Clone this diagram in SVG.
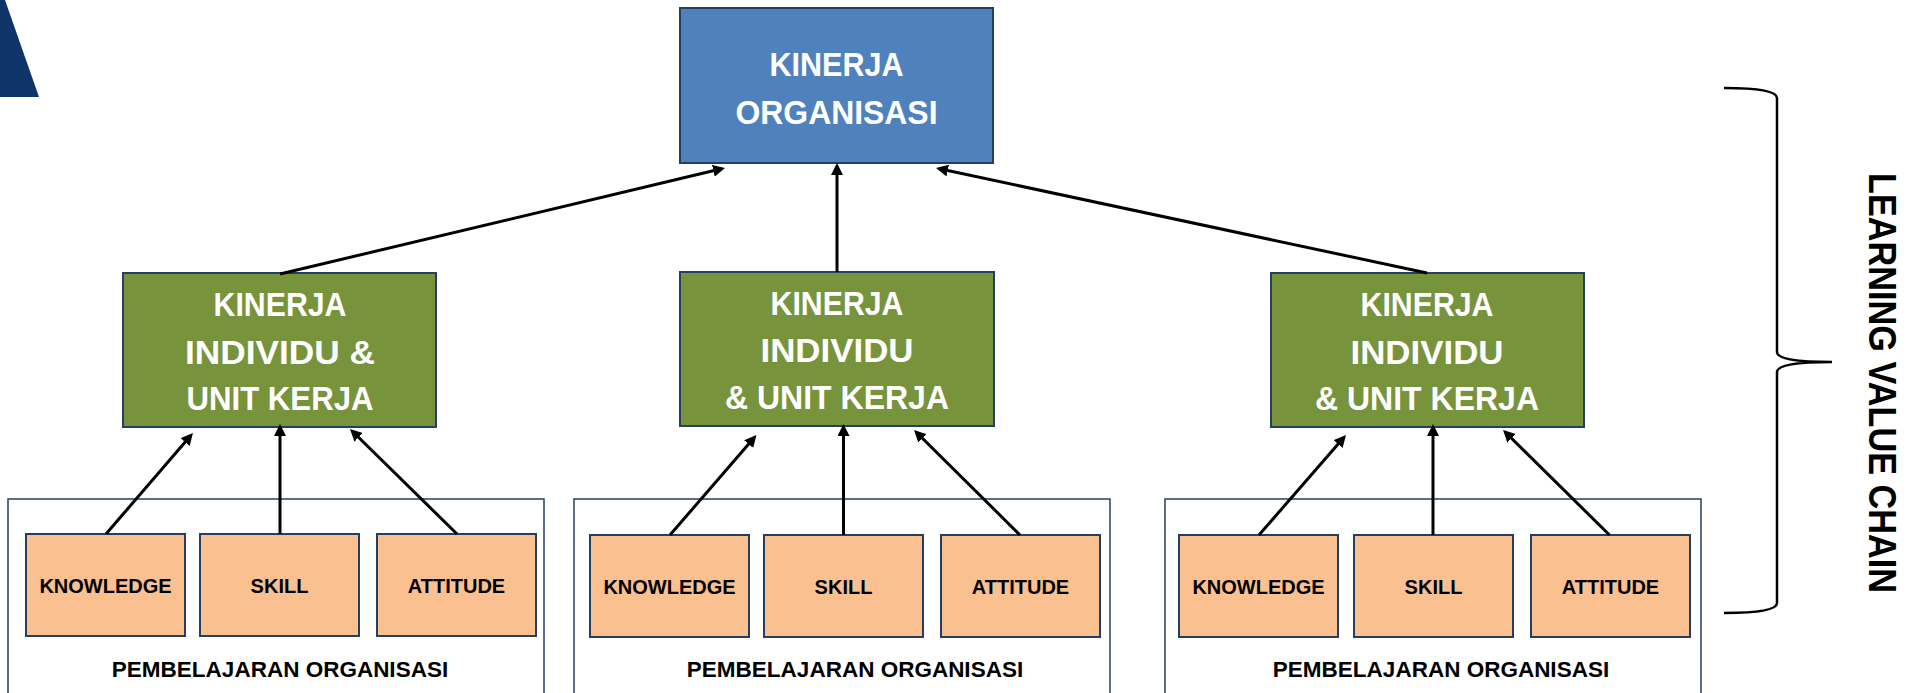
<svg xmlns="http://www.w3.org/2000/svg" width="1919" height="693" viewBox="0 0 1919 693">
  <defs>
    <marker id="arrow" viewBox="0 0 10 10" refX="7" refY="5" markerWidth="4" markerHeight="4" orient="auto" markerUnits="strokeWidth">
      <path d="M0,0 L10,5 L0,10 z" fill="#000"/>
    </marker>
    <style>
      .top { fill: #4f81bd; stroke: #243f60; stroke-width: 2; }
      .green { fill: #77933c; stroke: #243f60; stroke-width: 2; }
      .orange { fill: #fac090; stroke: #243f60; stroke-width: 2; }
      .frame { fill: #fff; stroke: #243f60; stroke-width: 1.5; }
      .big { font-family: "Liberation Sans", Arial, sans-serif; font-weight: bold; font-size: 33px; fill: #fff; text-anchor: middle; }
      .small { font-family: "Liberation Sans", Arial, sans-serif; font-weight: bold; font-size: 20px; fill: #000; text-anchor: middle; }
      .caption { font-family: "Liberation Sans", Arial, sans-serif; font-weight: bold; font-size: 22.5px; fill: #000; text-anchor: middle; }
      .side { font-family: "Liberation Sans", Arial, sans-serif; font-weight: bold; font-size: 38px; fill: #000; text-anchor: middle; }
      .link { stroke: #000; stroke-width: 3; fill: none; marker-end: url(#arrow); }
    </style>
  </defs>

  <!-- corner accent -->
  <polygon points="0,0 5,0 39,97 0,97" fill="#0e3468"/>

  <!-- learning group frames -->
  <g id="group-left">
    <rect class="frame" x="8" y="499" width="536" height="200"/>
    <text class="caption" x="280" y="677">PEMBELAJARAN ORGANISASI</text>
  </g>
  <g id="group-middle">
    <rect class="frame" x="574" y="499" width="536" height="200"/>
    <text class="caption" x="855" y="677">PEMBELAJARAN ORGANISASI</text>
  </g>
  <g id="group-right">
    <rect class="frame" x="1165" y="499" width="536" height="200"/>
    <text class="caption" x="1441" y="677">PEMBELAJARAN ORGANISASI</text>
  </g>

  <!-- competency boxes -->
  <g id="knowledge-1"><rect class="orange" x="26" y="534" width="159" height="102"/><text class="small" x="105.5" y="592.5">KNOWLEDGE</text></g>
  <g id="skill-1"><rect class="orange" x="200" y="534" width="159" height="102"/><text class="small" x="279.5" y="592.5">SKILL</text></g>
  <g id="attitude-1"><rect class="orange" x="377" y="534" width="159" height="102"/><text class="small" x="456.5" y="592.5">ATTITUDE</text></g>

  <g id="knowledge-2"><rect class="orange" x="590" y="535" width="159" height="102"/><text class="small" x="669.5" y="593.5">KNOWLEDGE</text></g>
  <g id="skill-2"><rect class="orange" x="764" y="535" width="159" height="102"/><text class="small" x="843.5" y="593.5">SKILL</text></g>
  <g id="attitude-2"><rect class="orange" x="941" y="535" width="159" height="102"/><text class="small" x="1020.5" y="593.5">ATTITUDE</text></g>

  <g id="knowledge-3"><rect class="orange" x="1179" y="535" width="159" height="102"/><text class="small" x="1258.5" y="593.5">KNOWLEDGE</text></g>
  <g id="skill-3"><rect class="orange" x="1354" y="535" width="159" height="102"/><text class="small" x="1433.5" y="593.5">SKILL</text></g>
  <g id="attitude-3"><rect class="orange" x="1531" y="535" width="159" height="102"/><text class="small" x="1610.5" y="593.5">ATTITUDE</text></g>

  <!-- individual / unit performance -->
  <g id="kinerja-individu-1">
    <rect class="green" x="123" y="273" width="313" height="154"/>
    <text class="big" x="280" y="316" textLength="133" lengthAdjust="spacingAndGlyphs">KINERJA</text>
    <text class="big" x="280" y="364" textLength="190" lengthAdjust="spacingAndGlyphs">INDIVIDU &amp;</text>
    <text class="big" x="280" y="410" textLength="187" lengthAdjust="spacingAndGlyphs">UNIT KERJA</text>
  </g>
  <g id="kinerja-individu-2">
    <rect class="green" x="680" y="272" width="314" height="154"/>
    <text class="big" x="837" y="315" textLength="133" lengthAdjust="spacingAndGlyphs">KINERJA</text>
    <text class="big" x="837" y="362" textLength="153" lengthAdjust="spacingAndGlyphs">INDIVIDU</text>
    <text class="big" x="837" y="409" textLength="224" lengthAdjust="spacingAndGlyphs">&amp; UNIT KERJA</text>
  </g>
  <g id="kinerja-individu-3">
    <rect class="green" x="1271" y="273" width="313" height="154"/>
    <text class="big" x="1427" y="316" textLength="133" lengthAdjust="spacingAndGlyphs">KINERJA</text>
    <text class="big" x="1427" y="364" textLength="153" lengthAdjust="spacingAndGlyphs">INDIVIDU</text>
    <text class="big" x="1427" y="410" textLength="224" lengthAdjust="spacingAndGlyphs">&amp; UNIT KERJA</text>
  </g>

  <!-- organisational performance -->
  <g id="kinerja-organisasi">
    <rect class="top" x="680" y="8" width="313" height="155"/>
    <text class="big" x="836.5" y="76" textLength="134" lengthAdjust="spacingAndGlyphs">KINERJA</text>
    <text class="big" x="836.5" y="124" textLength="202" lengthAdjust="spacingAndGlyphs">ORGANISASI</text>
  </g>

  <!-- connectors -->
  <g id="connectors">
    <line class="link" x1="280" y1="274" x2="721.5" y2="168.8"/>
    <line class="link" x1="837" y1="272" x2="837" y2="166.6"/>
    <line class="link" x1="1427" y1="273" x2="939.5" y2="168.8"/>

    <line class="link" x1="106" y1="534" x2="190.6" y2="435.7"/>
    <line class="link" x1="280" y1="534" x2="280" y2="427.6"/>
    <line class="link" x1="457" y1="534" x2="352.6" y2="431.5"/>

    <line class="link" x1="670" y1="535" x2="754.1" y2="437.7"/>
    <line class="link" x1="843.5" y1="535" x2="843.5" y2="427.6"/>
    <line class="link" x1="1020" y1="535" x2="916.6" y2="432.5"/>

    <line class="link" x1="1259" y1="535" x2="1343.6" y2="437.7"/>
    <line class="link" x1="1433" y1="535" x2="1433" y2="427.6"/>
    <line class="link" x1="1609.5" y1="535" x2="1505.6" y2="432.5"/>
  </g>

  <!-- value chain brace -->
  <g id="value-chain">
    <path d="M1724,88 Q1777,88 1777,98 L1777,352 Q1777,362 1832,362 Q1777,362 1777,372 L1777,603 Q1777,613 1724,613" fill="none" stroke="#000" stroke-width="2.5"/>
    <text class="side" transform="translate(1869,383) rotate(90)" x="0" y="0" textLength="420" lengthAdjust="spacingAndGlyphs">LEARNING VALUE CHAIN</text>
  </g>
</svg>
